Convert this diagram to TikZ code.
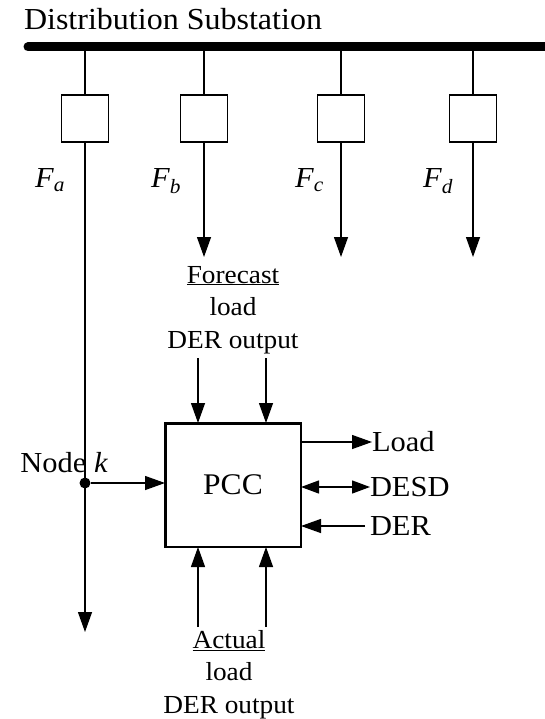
\documentclass[tikz,border=0pt]{standalone}
\usepackage{fontspec}
\setmainfont{Liberation Serif}[FakeStretch=1.05]
\usetikzlibrary{positioning,arrows.meta}

\begin{document}
\begin{tikzpicture}[
    x=1pt, y=-1pt,
    every node/.style={inner sep=0pt, outer sep=0pt},
    label/.style={font=\fontsize{29}{33}\selectfont},
    block/.style={align=center, font=\fontsize{26}{32.5}\selectfont},
    breaker/.style={rectangle, draw=black, line width=1.3pt, minimum width=47pt, minimum height=47pt},
    pcc/.style={rectangle, draw=black, line width=1.8pt, minimum width=136pt, minimum height=124pt, font=\fontsize{30}{33}\selectfont},
    dot/.style={circle, fill=black, minimum size=11pt},
    bus/.style={line width=9pt, line cap=round},
    feeder/.style={line width=1.3pt},
    arrow/.style={-{Triangle[length=20pt, width=14pt]}, line width=1.3pt},
    twoway/.style={{Triangle[length=18pt, width=13pt]}-{Triangle[length=18pt, width=13pt]}, line width=1.3pt}
]
    \useasboundingbox (0,0) rectangle (545,719);

    % Substation bus
    \node[label, font=\fontsize{30.5}{33}\selectfont, anchor=base west] (title) at (24,30) {Distribution Substation};
    \coordinate (busL) at (28,47);
    \coordinate (busR) at (545,47);
    \draw[bus] (busL) -- (busR);

    % Feeder breakers
    \node[breaker] (Fa) at (85,118.5) {};
    \node[breaker] (Fb) at (204,118.5) {};
    \node[breaker] (Fc) at (341,118.5) {};
    \node[breaker] (Fd) at (473,118.5) {};

    \draw[feeder] (Fa.north |- busL) -- (Fa.north);
    \draw[feeder] (Fb.north |- busL) -- (Fb.north);
    \draw[feeder] (Fc.north |- busL) -- (Fc.north);
    \draw[feeder] (Fd.north |- busL) -- (Fd.north);

    % Feeder ends
    \coordinate (enda) at (85,632);
    \coordinate (endb) at (204,257);
    \coordinate (endc) at (341,257);
    \coordinate (endd) at (473,257);

    \draw[arrow] (Fa.south) -- (enda);
    \draw[arrow] (Fb.south) -- (endb);
    \draw[arrow] (Fc.south) -- (endc);
    \draw[arrow] (Fd.south) -- (endd);

    \node[label, anchor=base west] (la) at (35,188) {\textit{F}\textsubscript{\textit{a}}};
    \node[label, anchor=base west] (lb) at (151,188) {\textit{F}\textsubscript{\textit{b}}};
    \node[label, anchor=base west] (lc) at (295,188) {\textit{F}\textsubscript{\textit{c}}};
    \node[label, anchor=base west] (ld) at (423,188) {\textit{F}\textsubscript{\textit{d}}};

    % PCC block
    \node[pcc] (pcc) at (233,485) {PCC};
    \draw[line width=3pt] (pcc.south west) -- (pcc.north west) -- (pcc.north east);

    % Node k
    \node[dot] (k) at (85,483) {};
    \node[label, anchor=base east] (klabel) at (108,472) {Node \textit{k}};
    \draw[arrow] (k) -- (k -| pcc.west);

    % Forecast inputs
    \node[block, anchor=north] (forecast) at (233,266) {\underline{Forecast}\\load\\DER output};
    \coordinate (fin1) at (198,358);
    \coordinate (fin2) at (266,358);
    \draw[arrow] (fin1) -- (fin1 |- pcc.north);
    \draw[arrow] (fin2) -- (fin2 |- pcc.north);

    % Actual inputs
    \node[block, anchor=north] (actual) at (229,630) {\underline{Actual}\\load\\DER output};
    \coordinate (ain1) at (198,627);
    \coordinate (ain2) at (266,627);
    \draw[arrow] (ain1) -- (ain1 |- pcc.south);
    \draw[arrow] (ain2) -- (ain2 |- pcc.south);

    % Right side
    \node[label, anchor=west] (load) at (372,442) {Load};
    \node[label, anchor=west] (desd) at (370,487) {DESD};
    \node[label, anchor=west] (der) at (370,526) {DER};

    \draw[arrow] (load.west -| pcc.east) -- (load.west);
    \draw[twoway] (desd.west -| pcc.east) -- (desd.west);
    \draw[arrow] ([xshift=-5pt]der.west) -- (der.west -| pcc.east);

\end{tikzpicture}
\end{document}
